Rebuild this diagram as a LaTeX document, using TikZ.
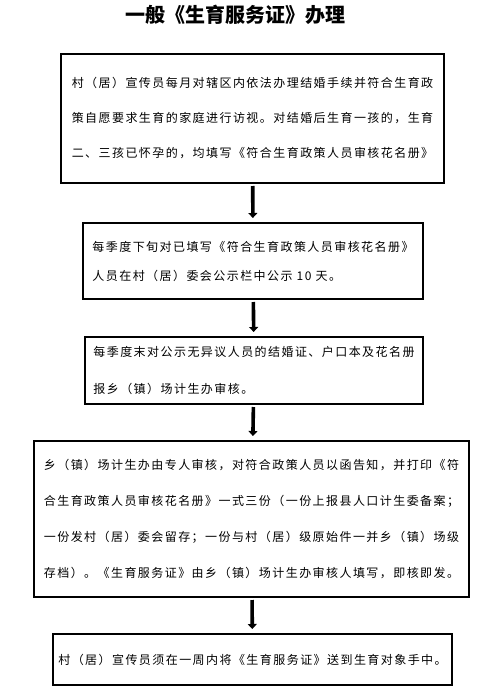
\documentclass[tikz,border=0pt]{standalone}
\usepackage{fontspec}
\usetikzlibrary{arrows.meta}
\newfontfamily\cjk[LetterSpace=12]{Noto Sans CJK SC}
\newfontfamily\cjktitle{Noto Sans CJK SC}

\tikzset{
  box/.style={draw, line width=1.2pt, inner sep=0pt, outer sep=0pt, align=left},
  flow/.style={line width=3.6pt, -{Triangle[width=9pt,length=5pt]}, shorten <=3pt, shorten >=5pt}
}

\begin{document}
\begin{tikzpicture}[x=1pt,y=-1pt]
\useasboundingbox (0,0) rectangle (492,695);

\node[font=\cjktitle\bfseries\fontsize{20}{20}\selectfont] (title) at (235,15) {一般《生育服务证》办理};

% steps of the procedure
\node[box, minimum width=383pt, minimum height=129pt, font=\cjk\fontsize{12}{35}\selectfont] (b1) at (252.5,118.5)
  {村（居）宣传员每月对辖区内依法办理结婚手续并符合生育政\\
   策自愿要求生育的家庭进行访视。对结婚后生育一孩的，生育\\
   二、三孩已怀孕的，均填写《符合生育政策人员审核花名册》};

\node[box, minimum width=340pt, minimum height=76pt, font=\cjk\fontsize{12}{29}\selectfont] (b2) at (253,261)
  {每季度下旬对已填写《符合生育政策人员审核花名册》\\
   人员在村（居）委会公示栏中公示 10 天。};

\node[box, minimum width=338pt, minimum height=67pt, font=\cjk\fontsize{12}{37}\selectfont] (b3) at (254,370.5)
  {每季度末对公示无异议人员的结婚证、户口本及花名册\\
   报乡（镇）场计生办审核。};

\node[box, minimum width=435pt, minimum height=156pt, font=\cjk\fontsize{12}{36}\selectfont] (b4) at (251.5,519)
  {乡（镇）场计生办由专人审核，对符合政策人员以函告知，并打印《符\\
   合生育政策人员审核花名册》一式三份（一份上报县人口计生委备案；\\
   一份发村（居）委会留存；一份与村（居）级原始件一并乡（镇）场级\\
   存档）。《生育服务证》由乡（镇）场计生办审核人填写，即核即发。};

\node[box, minimum width=399pt, minimum height=51pt, font=\cjk\fontsize{12}{20}\selectfont] (b5) at (252.5,659.5)
  {村（居）宣传员须在一周内将《生育服务证》送到生育对象手中。};

% arrows
\draw[flow] (b1) -- (b2);
\draw[flow] (b2) -- (b3);
\draw[flow] (b3) -- (b4);
\draw[flow] (b4) -- (b5);

\end{tikzpicture}
\end{document}
